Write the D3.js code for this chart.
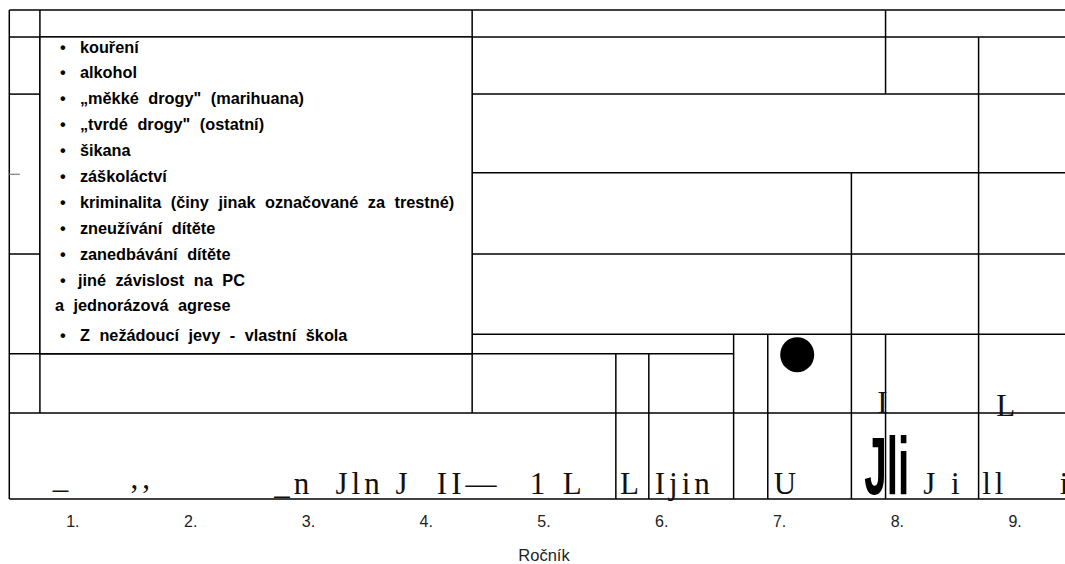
<!DOCTYPE html>
<html>
<head>
<meta charset="utf-8">
<script src="https://cdn.jsdelivr.net/npm/d3@7"></script>
<style>
  body { margin: 0; background: #fff; }
  svg { display: block; }
</style>
</head>
<body>
<div class="chart"><svg></svg></div>
<script>
// categories (Ročník)
var grades = ["1.", "2.", "3.", "4.", "5.", "6.", "7.", "8.", "9."];

// legend entries, as printed
var legendItems = [
    { t: "kouření", b: true },
    { t: "alkohol", b: true },
    { t: "„měkké drogy\" (marihuana)", b: true },
    { t: "„tvrdé drogy\" (ostatní)", b: true },
    { t: "šikana", b: true },
    { t: "záškoláctví", b: true },
    { t: "kriminalita (činy jinak označované za trestné)", b: true },
    { t: "zneužívání dítěte", b: true },
    { t: "zanedbávání dítěte", b: true },
    { t: "jiné závislost na PC", b: true },
    { t: "a jednorázová agrese", b: false },
    { t: "Z nežádoucí jevy - vlastní škola", b: true }
];

// grid rules, in data units: x = grade position, y = percent
var hRules = [
    [100, 0.46, 9.5], [94.5, 0.46, 9.5],
    [82.8, 0.46, 0.72], [82.8, 4.39, 9.5],
    [66.7, 4.39, 9.5],
    [50.1, 0.46, 0.72], [50.1, 4.39, 9.5],
    [33.7, 4.39, 9.5],
    [29.7, 0.46, 6.61],
    [17.6, 0.46, 9.5],
    [0, 0.46, 9.5]
];
var vRules = [
    [0.46, 0, 100], [0.72, 17.6, 100], [4.39, 17.6, 100],
    [7.90, 82.8, 100], [7.90, 0, 33.7],
    [8.69, 0, 94.5], [7.61, 0, 66.7],
    [5.61, 0, 29.7], [5.89, 0, 29.7],
    [6.61, 0, 33.7], [6.90, 0, 33.7]
];
var dashRule = [66.4, 0.46, 0.55];

// single point marker
var dots = [{ x: 7.15, y: 29.5 }];

// stray serif labels along the base of the plot
var serifBits = [
    { t: "_", x: 0.83, y: 2.2 },
    { t: ",,", x: 1.49, y: 2.2 },
    { t: "_n", x: 2.71, y: 1.0 },
    { t: "Jln", x: 3.23, y: 1.0 },
    { t: "J", x: 3.74, y: 1.0 },
    { t: "II—", x: 4.09, y: 1.0 },
    { t: "1", x: 4.88, y: 1.0 },
    { t: "L", x: 5.16, y: 1.0 },
    { t: "L", x: 5.645, y: 1.0 },
    { t: "Ijin", x: 5.94, y: 1.0 },
    { t: "U", x: 6.95, y: 1.0 },
    { t: "J i", x: 8.22, y: 1.0 },
    { t: "ll", x: 8.72, y: 1.0 },
    { t: "i", x: 9.38, y: 1.0 },
    { t: "I", x: 7.83, y: 17.6 },
    { t: "L", x: 8.84, y: 17.0 }
];
var bigBits = [{ t: "Jli", x: 7.72, y: 1.0 }];

var width = 1065, height = 564;
var margin = { top: 10, right: -9, bottom: 65, left: 14 };
var w = width - margin.left - margin.right;
var h = height - margin.top - margin.bottom;

var svg = d3.select("svg")
    .attr("width", width)
    .attr("height", height);

var g = svg.append("g")
    .attr("transform", "translate(" + margin.left + "," + margin.top + ")");

// scales
var xBand = d3.scaleBand().domain(grades).range([0, w]).padding(0);
var x = d3.scaleLinear().domain([0.5, 9.5]).range([0, w]);
var y = d3.scaleLinear().domain([0, 100]).range([h, 0]);

// rules
g.selectAll(".hr")
    .data(hRules)
    .enter().append("line")
    .attr("x1", function (d) { return x(d[1]); })
    .attr("x2", function (d) { return x(d[2]); })
    .attr("y1", function (d) { return y(d[0]); })
    .attr("y2", function (d) { return y(d[0]); })
    .attr("stroke", "#000").attr("stroke-width", 1.5);

g.selectAll(".vr")
    .data(vRules)
    .enter().append("line")
    .attr("x1", function (d) { return x(d[0]); })
    .attr("x2", function (d) { return x(d[0]); })
    .attr("y1", function (d) { return y(d[1]); })
    .attr("y2", function (d) { return y(d[2]); })
    .attr("stroke", "#000").attr("stroke-width", 1.5);

g.append("line")
    .attr("x1", x(dashRule[1])).attr("x2", x(dashRule[2]))
    .attr("y1", y(dashRule[0])).attr("y2", y(dashRule[0]))
    .attr("stroke", "#888").attr("stroke-width", 1.3);

// legend box
var lg = g.append("g")
    .attr("transform", "translate(" + (x(0.72)) + "," + y(94.5) + ")");
lg.append("rect")
    .attr("width", x(4.39) - x(0.72))
    .attr("height", y(29.7) - y(94.5))
    .attr("fill", "#fff")
    .attr("stroke", "#000").attr("stroke-width", 1.5);

var rowY = [16, 41, 67, 93, 119, 145, 171, 197, 223, 249, 274, 304];
var item = lg.selectAll(".item")
    .data(legendItems)
    .enter().append("g")
    .attr("transform", function (d, i) { return "translate(0," + rowY[i] + ")"; });
item.filter(function (d) { return d.b; }).append("text")
    .attr("x", 20)
    .text("•");
item.append("text")
    .attr("x", function (d, i) { return d.b ? (i === 9 ? 38 : 40) : 15; })
    .attr("word-spacing", 5)
    .text(function (d) { return d.t; });
item.selectAll("text")
    .attr("font-family", "Liberation Sans, Arial, sans-serif")
    .attr("font-size", 16.3)
    .attr("font-weight", "bold")
    .attr("fill", "#000");

// point
g.selectAll(".dot")
    .data(dots)
    .enter().append("ellipse")
    .attr("cx", function (d) { return x(d.x); })
    .attr("cy", function (d) { return y(d.y); })
    .attr("rx", 17).attr("ry", 17.5)
    .attr("fill", "#000");

// serif fragments
g.selectAll(".bit")
    .data(serifBits)
    .enter().append("text")
    .attr("x", function (d) { return x(d.x); })
    .attr("y", function (d) { return y(d.y); })
    .attr("font-family", "Liberation Serif, Times New Roman, serif")
    .attr("font-size", 31)
    .attr("letter-spacing", 4)
    .attr("fill", "#111")
    .style("white-space", "pre")
    .text(function (d) { return d.t; });

g.selectAll(".big")
    .data(bigBits)
    .enter().append("text")
    .attr("x", function (d) { return x(d.x); })
    .attr("y", function (d) { return y(d.y); })
    .attr("font-family", "Liberation Sans, Arial, sans-serif")
    .attr("font-weight", "bold")
    .attr("font-size", 82)
    .attr("textLength", 45)
    .attr("lengthAdjust", "spacingAndGlyphs")
    .attr("fill", "#000")
    .text(function (d) { return d.t; });

// x axis
var xAxis = g.append("g")
    .attr("transform", "translate(0," + h + ")")
    .call(d3.axisBottom(xBand).tickSize(0).tickPadding(17));
xAxis.select(".domain").remove();
xAxis.selectAll("text")
    .attr("font-family", "Liberation Sans, Arial, sans-serif")
    .attr("font-size", 16)
    .attr("fill", "#222");

g.append("text")
    .attr("x", w / 2)
    .attr("y", h + 62)
    .attr("text-anchor", "middle")
    .attr("font-family", "Liberation Sans, Arial, sans-serif")
    .attr("font-size", 16.5)
    .attr("fill", "#222")
    .text("Ročník");
</script>
</body>
</html>
